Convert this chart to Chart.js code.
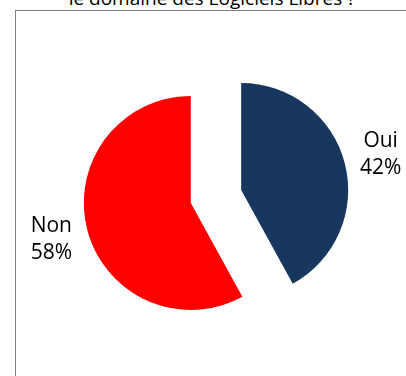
<!DOCTYPE html>
<html>
<head>
<meta charset="utf-8">
<script src="https://cdn.jsdelivr.net/npm/chart.js@4.4.1/dist/chart.umd.min.js"></script>
<style>
  html, body { margin: 0; padding: 0; background: #fff; overflow: hidden; }
  #wrap  { position: relative; width: 406px; height: 376px; }
  #frame { position: absolute; left: 15px; top: 10px; width: 420px; height: 420px;
           border: 1px solid #7f7f7f; box-sizing: border-box; }
  #title { position: absolute; left: 0; top: -11px; width: 424px; text-align: center;
           font: 19px 'Open Sans', sans-serif; line-height: 19px; color: #000; white-space: nowrap; }
  canvas { position: absolute; left: 0; top: 0; }
</style>
</head>
<body>
<div id="wrap">
  <div id="frame"></div>
  <div id="title">le domaine des Logiciels Libres ?</div>
  <canvas id="pie" width="406" height="376"></canvas>
</div>
<script>
/* ── Data ───────────────────────────────────────────────────── */
const labels  = ['Oui', 'Non'];
const values  = [42, 58];
const colors  = ['#17375E', '#FF0000'];

const RADIUS  = 107;   // pie radius, px
const EXPLODE = 26;    // distance each slice is pulled out
const LABEL_D = 144;   // label centre distance from slice tip

/* ── Plugins ────────────────────────────────────────────────── */
// pull every slice out along its bisector (keeps radius and angles intact)
const explode = {
  id: 'explode',
  afterDatasetUpdate(chart, args) {
    args.meta.data.forEach(arc => {
      const mid = (arc.startAngle + arc.endAngle) / 2;
      arc.x += Math.cos(mid) * EXPLODE;
      arc.y += Math.sin(mid) * EXPLODE;
    });
  }
};

// category + percent label outside each slice
const outLabels = {
  id: 'outLabels',
  afterDatasetsDraw(chart) {
    const ctx   = chart.ctx;
    const total = values.reduce((a, b) => a + b, 0);
    ctx.save();
    ctx.font = "21px 'Open Sans', sans-serif";
    ctx.fillStyle = '#000';
    ctx.textAlign = 'center';
    ctx.textBaseline = 'middle';
    chart.getDatasetMeta(0).data.forEach((arc, i) => {
      const mid = (arc.startAngle + arc.endAngle) / 2;
      const x = arc.x + Math.cos(mid) * LABEL_D;
      const y = arc.y + Math.sin(mid) * LABEL_D;
      const pct = Math.round(values[i] / total * 100) + '%';
      ctx.fillText(labels[i], x, y - 13);
      ctx.fillText(pct, x, y + 14);
    });
    ctx.restore();
  }
};

/* ── Chart ──────────────────────────────────────────────────── */
new Chart(document.getElementById('pie'), {
  type: 'pie',
  data: {
    labels: labels,
    datasets: [{
      data: values,
      backgroundColor: colors,
      borderWidth: 0
    }]
  },
  options: {
    responsive: false,
    animation: false,
    radius: RADIUS,
    layout: { padding: { left: 26, right: 0, top: 17, bottom: 0 } },
    plugins: {
      legend:  { display: false },
      tooltip: { enabled: false }
    }
  },
  plugins: [explode, outLabels]
});
</script>
</body>
</html>
